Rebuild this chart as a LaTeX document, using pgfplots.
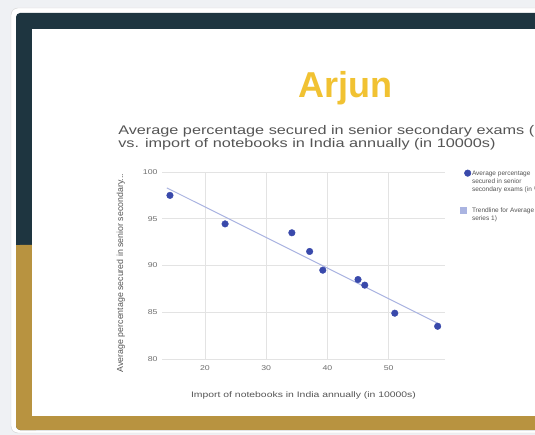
\documentclass[border=0pt]{standalone}
\usepackage{pgfplots}
\pgfplotsset{compat=1.18}
\usepackage{fontspec}
\setmainfont{Liberation Sans}
\definecolor{bgc}{RGB}{239,241,244}
\definecolor{darkframe}{RGB}{30,53,64}
\definecolor{goldframe}{RGB}{184,147,64}
\definecolor{titley}{RGB}{241,194,50}
\definecolor{ptblue}{RGB}{57,73,171}
\definecolor{trendc}{RGB}{170,180,225}
\definecolor{txtg}{RGB}{85,85,85}
\definecolor{tickg}{RGB}{110,110,110}
\begin{document}
\begin{tikzpicture}[x=1pt,y=1pt]
\useasboundingbox (0pt,0pt) rectangle (535pt,-435pt);
\clip (0pt,0pt) rectangle (535pt,-435pt);
\fill[bgc] (0,0) rectangle (535,-435);
\draw[gray!35,fill=white,rounded corners=7] (11,-8) rectangle (580,-433);
\fill[darkframe,rounded corners=4] (16,-13) rectangle (580,-430);
\fill[goldframe,rounded corners=4] (16,-245) rectangle (40,-430);
\fill[goldframe] (16,-245) rectangle (32,-400);
\fill[goldframe] (30,-416) rectangle (580,-430);
\fill[white] (32,-29) rectangle (580,-416);
\node[font=\fontsize{36}{36}\selectfont\bfseries, text=titley] at (345,-88) {Arjun};
\node[anchor=north west, align=left, font=\fontsize{12.5}{13}\selectfont, text=txtg, inner sep=0pt, xscale=1.3] at (118,-125)
  {Average percentage secured in senior secondary exams (in \%)\\vs. import of notebooks in India annually (in 10000s)};
\begin{axis}[
  at={(162pt,-359pt)}, anchor=south west,
  scale only axis, width=283pt, height=187pt,
  xmin=13, xmax=59.2, ymin=80, ymax=100,
  xtick={20,30,40,50}, ytick={80,85,90,95,100},
  grid=major, grid style={draw=gray!22, line width=0.6pt},
  axis line style={draw=none}, tick style={draw=none},
  ticklabel style={font=\fontsize{7}{8}\selectfont, text=tickg, xscale=1.25},
  xticklabel style={yshift=-3pt},
  /pgf/number format/assume math mode=true,
  xlabel={Import of notebooks in India annually (in 10000s)},
  ylabel={Average percentage secured in senior secondary...},
  xlabel style={at={(axis description cs:0.5,0)}, yshift=-36pt, anchor=center, font=\fontsize{8}{9}\selectfont, text=txtg, xscale=1.3},
  ylabel style={at={(axis description cs:-0.145,0.46)}, anchor=center, font=\fontsize{8.8}{9}\selectfont, text=txtg},
  legend style={at={(axis description cs:1.042,1.03)}, anchor=north west, draw=none, fill=none,
    font=\fontsize{6.5}{8}\selectfont, text=txtg, row sep=28pt,
    nodes={inner sep=1pt}},
  legend cell align=left,
]
\addplot[only marks, mark=*, mark size=3.3pt, ptblue] coordinates {
(14.3,97.5) (23.3,94.45) (34.2,93.5) (37.1,91.5) (39.25,89.5)
(45.0,88.5) (46.1,87.9) (51.0,84.9) (58.0,83.5)
};
\addlegendentry{\begin{tabular}[t]{@{}l@{}}Average percentage\\secured in senior\\secondary exams (in \%)\end{tabular}}
\addplot[trendc, line width=1pt, no marks, legend image code/.code={\fill[trendc] (0.05cm,-3pt) rectangle (0.05cm+6pt,3pt);}] coordinates {
(13.8,98.3) (58.4,83.7)
};
\addlegendentry{\begin{tabular}[t]{@{}l@{}}Trendline for Average\\series 1)\end{tabular}}
\end{axis}
\end{tikzpicture}
\end{document}
